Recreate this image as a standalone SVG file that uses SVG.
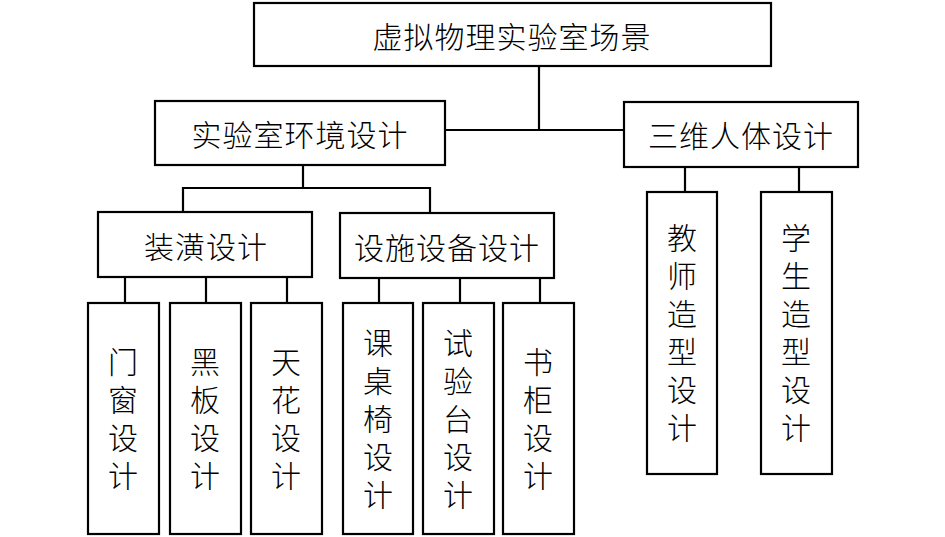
<svg xmlns="http://www.w3.org/2000/svg" width="945" height="537" viewBox="0 0 945 537">
<style>
rect{fill:#fff;stroke:#000;stroke-width:2.2}
line{stroke:#000;stroke-width:2.2}
text{font-family:"Noto Sans CJK SC","Noto Sans CJK JP",sans-serif;font-size:30px;fill:#000;text-anchor:middle;dominant-baseline:central;font-weight:300}
.v{writing-mode:vertical-rl;text-orientation:upright;letter-spacing:8px}
</style>
<rect width="945" height="537" style="fill:#fff;stroke:none"/>
<g id="connectors">
<line x1="539" y1="66" x2="539" y2="130"/>
<line x1="445" y1="130" x2="624" y2="130"/>
<line x1="303" y1="165" x2="303" y2="188"/>
<line x1="183" y1="188" x2="430" y2="188"/>
<line x1="183" y1="187" x2="183" y2="212"/>
<line x1="430" y1="187" x2="430" y2="213"/>
<line x1="125" y1="277" x2="125" y2="303"/>
<line x1="206" y1="277" x2="206" y2="303"/>
<line x1="287" y1="277" x2="287" y2="303"/>
<line x1="379" y1="278" x2="379" y2="303"/>
<line x1="460" y1="278" x2="460" y2="303"/>
<line x1="540" y1="278" x2="540" y2="303"/>
<line x1="685" y1="167" x2="685" y2="192"/>
<line x1="799" y1="167" x2="799" y2="192"/>
</g>
<g id="root"><rect x="254" y="3" width="517" height="63"/><text x="512" y="35" letter-spacing="1">虚拟物理实验室场景</text></g>
<g id="env"><rect x="155" y="101" width="290" height="64"/><text x="300" y="133" letter-spacing="1">实验室环境设计</text></g>
<g id="human"><rect x="624" y="102" width="234" height="65"/><text x="741" y="134" letter-spacing="1">三维人体设计</text></g>
<g id="deco"><rect x="98" y="212" width="214" height="65"/><text x="206" y="245" letter-spacing="1">装潢设计</text></g>
<g id="facility"><rect x="340" y="213" width="214" height="65"/><text x="447" y="246" letter-spacing="1">设施设备设计</text></g>
<g id="door"><rect x="88" y="303" width="71" height="231"/><text class="v" x="123" y="423">门窗设计</text></g>
<g id="board"><rect x="170" y="303" width="71" height="231"/><text class="v" x="205" y="423">黑板设计</text></g>
<g id="ceiling"><rect x="251" y="303" width="71" height="231"/><text class="v" x="286" y="423">天花设计</text></g>
<g id="desk"><rect x="343" y="303" width="70" height="231"/><text class="v" x="378" y="423">课桌椅设计</text></g>
<g id="bench"><rect x="423" y="303" width="71" height="231"/><text class="v" x="458" y="423">试验台设计</text></g>
<g id="shelf"><rect x="503" y="303" width="71" height="231"/><text class="v" x="538" y="423">书柜设计</text></g>
<g id="teacher"><rect x="647" y="192" width="70" height="282"/><text class="v" x="682" y="337">教师造型设计</text></g>
<g id="student"><rect x="761" y="192" width="71" height="282"/><text class="v" x="796" y="337">学生造型设计</text></g>
</svg>
